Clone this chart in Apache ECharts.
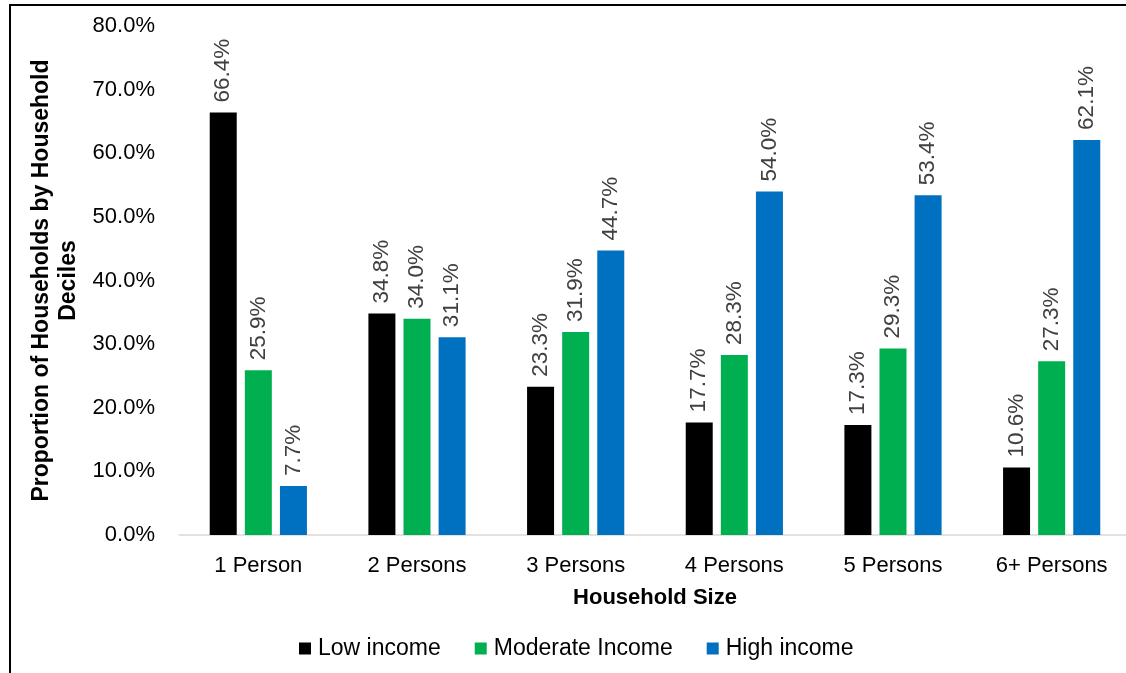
<!DOCTYPE html>
<html>
<head>
<meta charset="utf-8">
<script src="https://cdn.jsdelivr.net/npm/echarts@6/dist/echarts.min.js"></script>
<style>
  html, body { margin: 0; padding: 0; background: #fff; }
  #wrap { position: relative; width: 1126px; height: 673px; overflow: hidden; }
  #frame { position: absolute; left: 9px; top: 4px; width: 1200px; height: 700px;
           border-left: 2.5px solid #000; border-top: 2.5px solid #000; box-sizing: border-box; }
  #chart { position: absolute; left: 0; top: 0; width: 1126px; height: 673px; }
</style>
</head>
<body>
<div id="wrap">
  <div id="frame"></div>
  <div id="chart"></div>
</div>
<script>
// Household size categories and share of households per income decile group (%)
const categories = ['1 Person', '2 Persons', '3 Persons', '4 Persons', '5 Persons', '6+ Persons'];
const lowIncome = [66.4, 34.8, 23.3, 17.7, 17.3, 10.6];
const moderateIncome = [25.9, 34.0, 31.9, 28.3, 29.3, 27.3];
const highIncome = [7.7, 31.1, 44.7, 54.0, 53.4, 62.1];
const seriesNames = ['Low income', 'Moderate Income', 'High income'];
const seriesColors = ['#000000', '#00B050', '#0070C0'];

const FONT = '"Liberation Sans", Arial, sans-serif';

const chart = echarts.init(document.getElementById('chart'), null, { renderer: 'canvas' });

function barSeries(name, data, color) {
  return {
    name: name,
    type: 'bar',
    data: data,
    barWidth: 27,
    barGap: '30%',
    itemStyle: { color: color },
    label: {
      show: true,
      position: 'top',
      rotate: 90,
      align: 'left',
      verticalAlign: 'middle',
      distance: 10,
      color: '#404040',
      fontFamily: FONT,
      fontSize: 22.5,
      formatter: p => p.value.toFixed(1) + '%'
    }
  };
}

chart.setOption({
  animation: false,
  backgroundColor: 'transparent',
  grid: { left: 179, top: 26, width: 952, height: 509, outerBoundsMode: 'none', containLabel: false },
  legend: {
    data: seriesNames,
    bottom: 8,
    left: 294,
    itemWidth: 12,
    itemHeight: 12,
    itemGap: 34,
    icon: 'rect',
    textStyle: { fontFamily: FONT, fontSize: 23, color: '#000', padding: [0, 0, 0, 2] }
  },
  xAxis: {
    type: 'category',
    data: categories,
    name: 'Household Size',
    nameLocation: 'middle',
    nameGap: 52,
    nameTextStyle: { fontFamily: FONT, fontSize: 22, fontWeight: 'bold', color: '#000' },
    axisLine: { lineStyle: { color: '#d9d9d9', width: 1.5 } },
    axisTick: { show: false },
    axisLabel: { fontFamily: FONT, fontSize: 22, color: '#000', margin: 20 }
  },
  yAxis: {
    type: 'value',
    min: 0,
    max: 80,
    interval: 10,
    name: 'Proportion of Households by Household\nDeciles',
    nameLocation: 'middle',
    nameRotate: 90,
    nameGap: 88,
    nameTextStyle: { fontFamily: FONT, fontSize: 23, fontWeight: 'bold', color: '#000', lineHeight: 27 },
    axisLine: { show: false },
    axisTick: { show: false },
    splitLine: { show: false },
    axisLabel: {
      fontFamily: FONT, fontSize: 22, color: '#000', margin: 24,
      formatter: v => v.toFixed(1) + '%'
    }
  },
  series: [
    barSeries(seriesNames[0], lowIncome, seriesColors[0]),
    barSeries(seriesNames[1], moderateIncome, seriesColors[1]),
    barSeries(seriesNames[2], highIncome, seriesColors[2])
  ]
});
</script>
</body>
</html>
